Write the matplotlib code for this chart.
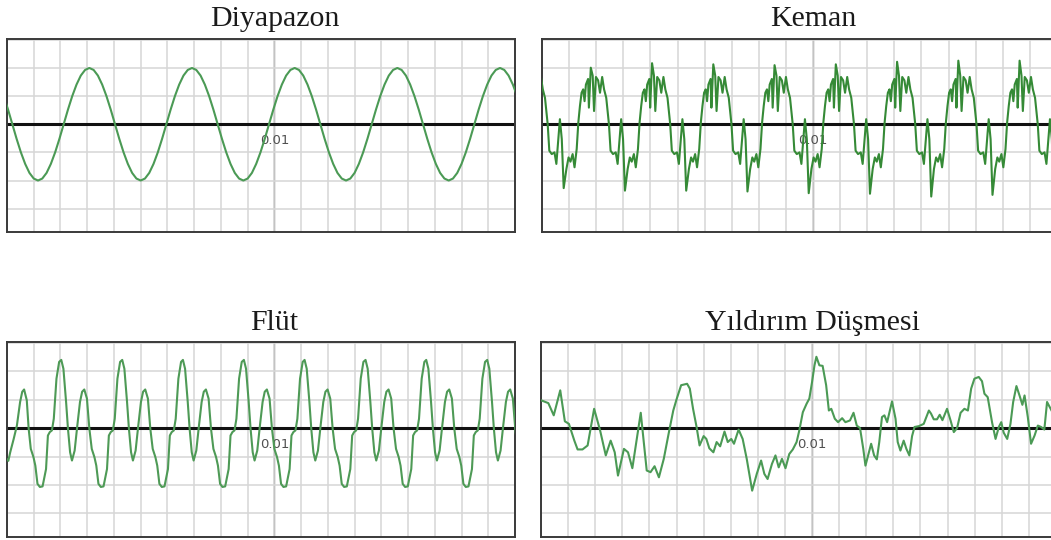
import numpy as np
import matplotlib
matplotlib.use("Agg")
import matplotlib.pyplot as plt

# ---------------- data (time in ms, amplitude in grid units) ----------------
titles = ["Diyapazon", "Keman", "Flüt", "Yıldırım Düşmesi"]
center_label = "0.01"

# Diyapazon: samples every 0.16 ms starting at -0.12 ms
diyapazon_t0 = -0.12
diyapazon_step = 0.16
diyapazon_y = [
    1.0, 0.52, 0.0, -0.52, -1.0, -1.41, -1.73, -1.93, -2.0, -1.93, -1.73, -1.41,
    -1.0, -0.52, 0.0, 0.52, 1.0, 1.41, 1.73, 1.93, 2.0, 1.93, 1.73, 1.41,
    1.0, 0.52, 0.0, -0.52, -1.0, -1.41, -1.73, -1.93, -2.0, -1.93, -1.73, -1.41,
    -1.0, -0.52, 0.0, 0.52, 1.0, 1.41, 1.73, 1.93, 2.0, 1.93, 1.73, 1.41,
    1.0, 0.52, 0.0, -0.52, -1.0, -1.41, -1.73, -1.93, -2.0, -1.93, -1.73, -1.41,
    -1.0, -0.52, 0.0, 0.52, 1.0, 1.41, 1.73, 1.93, 2.0, 1.93, 1.73, 1.41,
    1.0, 0.52, 0.0, -0.52, -1.0, -1.41, -1.73, -1.93, -2.0, -1.93, -1.73, -1.41,
    -1.0, -0.52, 0.0, 0.52, 1.0, 1.41, 1.73, 1.93, 2.0, 1.93, 1.73, 1.41,
    1.0, 0.52, 0.0, -0.52, -1.0, -1.41, -1.73, -1.93, -2.0, -1.93, -1.73, -1.41,
    -1.0, -0.52, 0.0, 0.52, 1.0, 1.41, 1.73, 1.93, 2.0, 1.93, 1.73, 1.41,
    1.0,
]

# Keman: one period (offset from descending zero crossing)
keman_offsets = [0.0, 0.06, 0.15, 0.25, 0.32, 0.45, 0.52, 0.59, 0.69, 0.77, 0.84,
                 0.92, 0.99, 1.07, 1.13, 1.19, 1.25, 1.31, 1.36, 1.41, 1.49, 1.52,
                 1.59, 1.66, 1.71, 1.78, 1.86, 1.93, 2.01, 2.08, 2.16]
keman_shape = [0.0, -0.94, -1.06, -1.0, -1.41, 0.18, -0.53, -2.35, -1.59, -1.18, -1.33,
               -1.06, -1.53, -0.88, 0.06, 0.65, 1.12, 1.24, 0.82, 1.41, 1.61, 0.59,
               2.15, 1.73, 0.47, 1.68, 1.56, 1.12, 1.68, 1.24, 0.94]
keman_starts = [-2.05, 0.21, 2.47, 4.73, 6.99, 9.25, 11.51, 13.77, 16.03, 18.29]
keman_peaks = [2.2, 2.01, 2.17, 2.13, 2.10, 2.13, 2.22, 2.26, 2.26, 2.25]
keman_troughs = [-2.3, -2.27, -2.36, -2.36, -2.39, -2.45, -2.47, -2.57, -2.51, -2.47]

# Flüt: leading part, then one period (offset from the tall peak)
flut_head_t = [0.0, 0.05, 0.12, 0.25, 0.37, 0.49, 0.57, 0.64, 0.74, 0.81, 0.89, 0.99,
               1.06, 1.14, 1.23, 1.33, 1.41, 1.46, 1.53, 1.60, 1.68, 1.75, 1.85, 1.95]
flut_head_y = [-1.1, -1.15, -0.85, -0.38, 0.09, 0.92, 1.28, 1.36, 0.98, -0.02, -0.73, -1.02,
               -1.32, -1.96, -2.07, -2.05, -1.67, -1.44, -0.26, -0.14, -0.08, 0.33, 1.74, 2.33]
flut_offsets = [0.0, 0.08, 0.18, 0.25, 0.33, 0.40, 0.50, 0.60, 0.70, 0.78, 0.86, 0.96,
                1.05, 1.14, 1.24, 1.31, 1.39, 1.48, 1.58, 1.66, 1.71, 1.78, 1.85, 1.93,
                2.00, 2.10, 2.20]
flut_shape = [2.40, 2.09, 0.92, -0.02, -0.85, -1.14, -0.79, 0.09, 0.92, 1.28, 1.36, 1.04,
              -0.02, -0.73, -1.02, -1.32, -1.96, -2.07, -2.05, -1.67, -1.44, -0.26, -0.14, -0.08,
              0.33, 1.74, 2.33]
flut_starts = [2.03, 4.31, 6.58, 8.86, 11.13, 13.41, 15.68, 17.96]

# Yıldırım Düşmesi
yildirim_t = [0.0, 0.27, 0.47, 0.71, 0.88, 1.03, 1.23, 1.35, 1.53, 1.72, 1.96, 2.18, 2.39,
              2.57, 2.72, 2.84, 3.06, 3.21, 3.37, 3.68, 3.90, 4.04, 4.19, 4.35, 4.53, 4.72,
              4.88, 5.00, 5.17, 5.39, 5.49, 5.61, 5.74, 5.85, 6.00, 6.10, 6.21, 6.36, 6.48,
              6.61, 6.77, 6.89, 7.02, 7.12, 7.29, 7.44, 7.59, 7.79, 7.96, 8.12, 8.24, 8.36,
              8.52, 8.65, 8.77, 8.89, 9.02, 9.16, 9.29, 9.43, 9.53, 9.66, 9.80, 9.90, 10.0,
              10.09, 10.16, 10.27, 10.39, 10.52, 10.62, 10.71, 10.84, 10.96, 11.11, 11.23,
              11.40, 11.53, 11.65, 11.77, 11.89, 11.97, 12.07, 12.18, 12.29, 12.39, 12.48,
              12.58, 12.67, 12.77, 12.95, 13.08, 13.16, 13.26, 13.38, 13.48, 13.59, 13.69,
              13.78, 13.94, 14.12, 14.31, 14.39, 14.49, 14.61, 14.71, 14.81, 14.98, 15.11,
              15.23, 15.35, 15.48, 15.62, 15.75, 15.87, 15.99, 16.15, 16.27, 16.36, 16.48,
              16.64, 16.77, 16.89, 16.98, 17.07, 17.20, 17.32, 17.42, 17.54, 17.66, 17.76,
              17.84, 17.96, 18.08, 18.21, 18.33, 18.45, 18.57, 18.67, 18.77, 18.90]
yildirim_y = [0.98, 0.88, 0.45, 1.33, 0.24, 0.15, -0.44, -0.75, -0.75, -0.61, 0.68, -0.08, -0.96,
              -0.44, -0.85, -1.67, -0.73, -0.85, -1.41, 0.54, -1.49, -1.55, -1.34, -1.73, -1.08, -0.14,
              0.62, 1.01, 1.51, 1.56, 1.39, 0.68, 0.04, -0.61, -0.28, -0.38, -0.71, -0.85, -0.49,
              -0.64, -0.12, -0.49, -0.38, -0.55, -0.05, -0.38, -1.08, -2.2, -1.61, -1.14, -1.61, -1.79,
              -1.26, -0.96, -1.38, -1.08, -1.41, -0.91, -0.75, -0.49, -0.08, 0.56, 0.86, 1.04, 1.62,
              2.21, 2.51, 2.21, 2.19, 1.51, 0.62, 0.68, 0.33, 0.21, 0.35, 0.21,
              0.27, 0.54, 0.09, 0.0, -0.73, -1.32, -0.96, -0.55, -0.96, -1.1, -0.49,
              0.39, 0.45, 0.21, 0.94, 0.33, -0.49, -0.79, -0.44, -0.73, -0.96, -0.28,
              0.04, 0.07, 0.15, 0.62, 0.51, 0.31, 0.31, 0.47, 0.28, 0.68, 0.27,
              -0.14, 0.0, 0.54, 0.68, 0.62, 1.39, 1.74, 1.80, 1.65, 1.21, 1.09,
              0.21, -0.38, 0.04, 0.21, -0.16, -0.38, 0.15, 0.92, 1.48, 1.13, 0.82,
              1.15, 0.39, -0.55, -0.26, 0.09, 0.04, -0.05, 0.92, 0.74, 0.50]

# ---------------- assemble series ----------------
diy_t = diyapazon_t0 + diyapazon_step * np.arange(len(diyapazon_y))
diy_y = np.array(diyapazon_y)

k_t, k_y = [], []
pk_i = keman_shape.index(max(keman_shape))
tr_i = keman_shape.index(min(keman_shape))
for s, pk, tr in zip(keman_starts, keman_peaks, keman_troughs):
    shape = list(keman_shape)
    shape[pk_i] = pk
    shape[tr_i] = tr
    k_t.extend(s + o for o in keman_offsets)
    k_y.extend(shape)
k_t = np.array(k_t)
k_y = np.array(k_y)

f_t = list(flut_head_t)
f_y = list(flut_head_y)
for s in flut_starts:
    f_t.extend(s + o for o in flut_offsets)
    f_y.extend(flut_shape)
f_t = np.array(f_t)
f_y = np.array(f_y)

series = [
    (diy_t, diy_y, "#4b9a55"),
    (k_t, k_y, "#358a36"),
    (f_t, f_y, "#4e9a56"),
    (np.array(yildirim_t), np.array(yildirim_y), "#4b9a55"),
]

# ---------------- figure ----------------
W, H = 1051, 540
fig = plt.figure(figsize=(W / 100, H / 100), dpi=100)

rects = [
    (7, 39, 508, 193),
    (542, 39, 515, 193),
    (7, 342, 508, 195),
    (541, 342, 515, 195),
]

for (x0, y0, w, h), title, (t, y, col) in zip(rects, titles, series):
    ax = fig.add_axes([x0 / W, 1 - (y0 + h) / H, w / W, h / H])
    ax.set_xlim(0, 0.019)
    ax.set_ylim(-3.83, 3.03)
    ax.set_xticks(np.arange(0, 0.0195, 0.001))
    ax.set_yticks(np.arange(-3, 4, 1))
    ax.grid(True, color="#d6d6d6", lw=1.1, zorder=0)
    ax.tick_params(length=0, labelbottom=False, labelleft=False)
    for sp in ax.spines.values():
        sp.set_color("#3a3a3a")
        sp.set_linewidth(1.4)
    ax.axvline(0.01, color="#858585", lw=1.0, zorder=1)
    ax.axhline(0, color="#111111", lw=2.2, zorder=2)
    ax.text(0.01, -0.57, center_label, ha="center", va="center", fontsize=9.5,
            color="#505050", zorder=2.5)
    ax.plot(t / 1000.0, y, color=col, lw=1.5, zorder=3, solid_joinstyle="round")
    ax.set_title(title, x=0.01 / 0.019, pad=9, fontsize=21.5,
                 family=["Liberation Serif", "DejaVu Serif"], color="#1a1a1a")

fig.savefig("out.png", dpi=100)
